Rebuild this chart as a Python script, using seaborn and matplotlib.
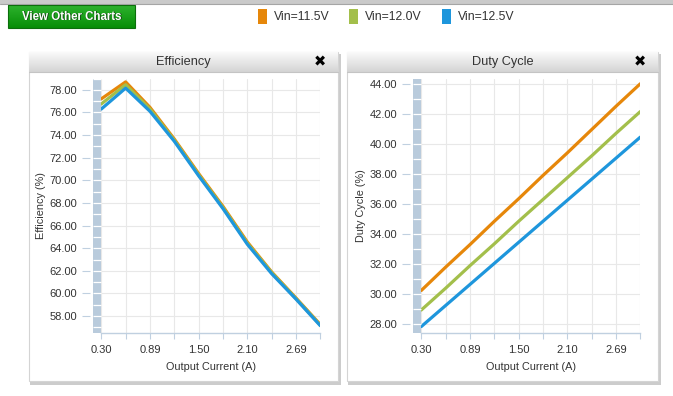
import numpy as np
import pandas as pd
import matplotlib
matplotlib.use('Agg')
import matplotlib.pyplot as plt
import seaborn as sns
from matplotlib.patches import Rectangle
from matplotlib.colors import LinearSegmentedColormap
from matplotlib.transforms import blended_transform_factory

# data
current = [0.30, 0.60, 0.90, 1.20, 1.50, 1.80, 2.10, 2.40, 2.70, 3.00]
vin_labels = ['Vin=11.5V', 'Vin=12.0V', 'Vin=12.5V']
vin_colors = ['#E6870A', '#A3BF4B', '#1E96DC']

eff_115 = [77.20, 78.70, 76.45, 73.65, 70.60, 67.70, 64.55, 61.90, 59.60, 57.25]
eff_120 = [76.75, 78.45, 76.30, 73.55, 70.50, 67.60, 64.45, 61.85, 59.55, 57.20]
eff_125 = [76.30, 78.15, 76.10, 73.45, 70.40, 67.50, 64.35, 61.75, 59.50, 57.15]

duty_115 = [30.25, 31.80, 33.30, 34.85, 36.35, 37.90, 39.40, 40.95, 42.50, 44.00]
duty_120 = [28.95, 30.40, 31.90, 33.35, 34.85, 36.30, 37.75, 39.20, 40.70, 42.15]
duty_125 = [27.85, 29.25, 30.65, 32.05, 33.45, 34.85, 36.25, 37.65, 39.05, 40.45]

x_ticks = [0.3, 0.6, 0.9, 1.2, 1.5, 1.8, 2.1, 2.4, 2.7, 3.0]
x_tick_labels = ['0.30', '', '0.89', '', '1.50', '', '2.10', '', '2.69', '']
eff_yticks = [58, 60, 62, 64, 66, 68, 70, 72, 74, 76, 78]
duty_yticks = [28, 30, 32, 34, 36, 38, 40, 42, 44]


def long_df(series):
    rows = []
    for lab, vals in zip(vin_labels, series):
        for c, v in zip(current, vals):
            rows.append({'current': c, 'value': v, 'vin': lab})
    return pd.DataFrame(rows)


df_eff = long_df([eff_115, eff_120, eff_125])
df_duty = long_df([duty_115, duty_120, duty_125])

sns.set_theme(style='white')
plt.rcParams['font.family'] = ['Liberation Sans', 'DejaVu Sans']

W, H = 673, 396
fig = plt.figure(figsize=(W / 100, H / 100), dpi=100)
fig.patch.set_facecolor('white')

# background axes in pixel coordinates for the page chrome
bg = fig.add_axes([0, 0, 1, 1], zorder=0)
bg.set_xlim(0, W)
bg.set_ylim(H, 0)
bg.axis('off')

grad = np.linspace(0, 1, 50).reshape(-1, 1)

# top bar
bg.add_patch(Rectangle((0, 0), W, 3.5, fc='#CACACA', ec='none'))
bg.plot([0, W], [3.5, 3.5], color='#A5A5A5', lw=0.8)

# green button
btn_cmap = LinearSegmentedColormap.from_list('btn', ['#2DB22D', '#078E07'])
bg.imshow(grad, extent=(8, 135, 28, 5), cmap=btn_cmap, aspect='auto', zorder=1)
bg.add_patch(Rectangle((8, 5), 127, 23, fc='none', ec='#0B6E0B', lw=0.8, zorder=2))
bg.text(72.5, 17.5, 'View Other Charts', ha='center', va='center', fontsize=8.3,
        fontweight='bold', color='#1a4d1a', zorder=3)
bg.text(71.5, 16.5, 'View Other Charts', ha='center', va='center', fontsize=8.3,
        fontweight='bold', color='white', zorder=4)

# legend on top
for lx, lab, col in zip([258, 349, 442], vin_labels, vin_colors):
    bg.add_patch(Rectangle((lx, 9), 9, 15, fc=col, ec='none', zorder=2))
    bg.text(lx + 16, 17, lab, ha='left', va='center', fontsize=8.8, color='#333333')

title_cmap = LinearSegmentedColormap.from_list('title', ['#FAFAFA', '#D4D4D4'])


def panel(x0, x1, title):
    top, bot = 52, 381
    bg.add_patch(Rectangle((x0 + 1, top + 2), x1 - x0 + 2, bot - top + 2,
                           fc='#9a9a9a', ec='none', alpha=0.5, zorder=1))
    bg.add_patch(Rectangle((x0, top), x1 - x0, bot - top, fc='white',
                           ec='#d4d4d4', lw=0.8, zorder=2))
    bg.imshow(grad, extent=(x0, x1, 72, top), cmap=title_cmap, aspect='auto', zorder=3)
    bg.plot([x0, x1], [72, 72], color='#c4c4c4', lw=0.8, zorder=4)
    bg.text((x0 + x1) / 2, 62, title, ha='center', va='center', fontsize=9.2,
            color='#333333', zorder=5)
    bg.text(x1 - 18, 61.5, '\u2716', ha='center', va='center', fontsize=10.5,
            color='black', family=['DejaVu Sans'], zorder=5)


panel(29, 338, 'Efficiency')
panel(347, 658, 'Duty Cycle')
bg.set_xlim(0, W)
bg.set_ylim(H, 0)

ax_top, ax_bot = 78.5, 332.7
ax_w = 219


def chart(x_left, df, yticks, ylim, ylabel):
    ax = fig.add_axes([x_left / W, (H - ax_bot) / H, ax_w / W, (ax_bot - ax_top) / H],
                      zorder=2)
    ax.patch.set_alpha(0)
    sns.lineplot(data=df, x='current', y='value', hue='vin', palette=vin_colors,
                 linewidth=2.3, legend=False, ax=ax)
    ax.set_xlim(x_ticks[0], x_ticks[-1])
    ax.set_ylim(*ylim)
    ax.set_xticks(x_ticks)
    ax.set_xticklabels(x_tick_labels)
    ax.set_yticks(yticks)
    ax.set_yticklabels(['%.2f' % v for v in yticks])
    ax.grid(True, color='#e8e8e8', lw=0.8)
    ax.set_axisbelow(True)
    for s in ['top', 'right']:
        ax.spines[s].set_visible(False)
    ax.spines['left'].set_position(('outward', 8))
    ax.spines['left'].set_visible(False)
    ax.spines['bottom'].set_color('#C0D0E0')
    ax.spines['bottom'].set_linewidth(1)
    ax.tick_params(axis='y', length=6, width=0.8, color='#C0D0E0', pad=3.5,
                   labelsize=8, labelcolor='#333333', left=True)
    ax.tick_params(axis='x', length=4, width=0.8, color='#C0D0E0', pad=5,
                   labelsize=8, labelcolor='#333333', bottom=True)

    # decorative band left of the plot
    bw = 8 / ax_w
    ax.add_patch(Rectangle((-bw, 0), bw, 1, transform=ax.transAxes, fc='#B9CBDC',
                           ec='none', clip_on=False, zorder=3))
    trans = blended_transform_factory(ax.transAxes, ax.transData)
    seps = np.arange(np.ceil(ylim[0]), np.floor(ylim[1]) + 1)
    ax.hlines(seps, -bw, 0, transform=trans, colors='white', lw=0.9,
              clip_on=False, zorder=4)

    ax.set_xlabel('Output Current (A)', fontsize=7.8, color='#333333')
    ax.set_ylabel(ylabel, fontsize=7.8, color='#333333')
    ax.xaxis.set_label_coords(0.5, -0.115)
    ax.yaxis.set_label_coords(-0.252, 0.5)
    return ax


chart(101.3, df_eff, eff_yticks, (56.53, 79.0), 'Efficiency (%)')
chart(421.3, df_duty, duty_yticks, (27.44, 44.35), 'Duty Cycle (%)')

fig.savefig('out.png', dpi=100)
